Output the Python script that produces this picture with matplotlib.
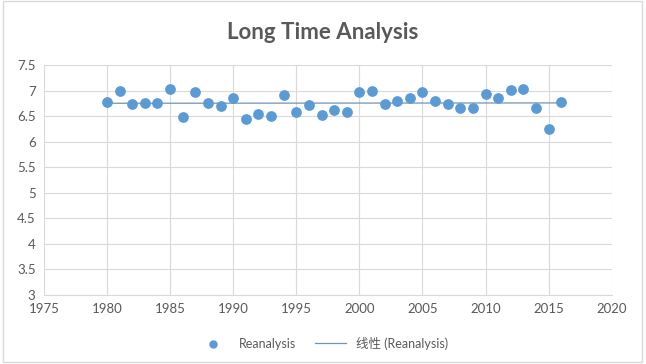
import numpy as np
import matplotlib.pyplot as plt
from matplotlib.patches import Rectangle

plt.rcParams['font.family'] = ['Lato', 'Noto Sans CJK SC', 'DejaVu Sans']

years = np.arange(1980, 2017)
values = [6.78, 7.00, 6.73, 6.75, 6.75, 7.03, 6.48, 6.97, 6.76, 6.70,
          6.86, 6.45, 6.55, 6.50, 6.92, 6.59, 6.72, 6.53, 6.63, 6.59,
          6.97, 7.00, 6.73, 6.79, 6.85, 6.97, 6.80, 6.73, 6.67, 6.67,
          6.94, 6.85, 7.02, 7.03, 6.67, 6.25, 6.77]
xticks = np.arange(1975, 2021, 5)
yticks = np.arange(3, 7.51, 0.5)
ylabels = ['3', '3.5', '4', '4.5', '5', '5.5', '6', '6.5', '7', '7.5']

col = '#5b9bd5'
txt = '#595959'
grid = '#d9d9d9'

fig = plt.figure(figsize=(6.46, 3.64), dpi=100)
fig.patches.append(Rectangle((0.004, 0.006), 0.99, 0.99, transform=fig.transFigure,
                             fill=False, edgecolor='#d9d9d9', lw=1))
ax = fig.add_axes([0.068, 0.19, 0.879, 0.631])

ax.scatter(years, values, s=45, color=col, zorder=3, label='Reanalysis')
k, b = np.polyfit(years, values, 1)
ax.plot(years, k * years + b, color='#6f94b8', lw=0.9, zorder=2, label='线性 (Reanalysis)')

ax.set_xlim(1975, 2020)
ax.set_ylim(3, 7.5)
ax.set_xticks(xticks)
ax.set_yticks(yticks)
ax.set_yticklabels(ylabels)
ax.grid(True, color=grid, lw=0.8)
ax.set_axisbelow(True)
for s in ax.spines.values():
    s.set_visible(False)
ax.spines['bottom'].set_visible(True)
ax.spines['bottom'].set_color(grid)
ax.tick_params(length=0, colors=txt, labelsize=9.5, pad=6)

fig.text(0.5, 0.912, 'Long Time Analysis', ha='center', va='center',
         fontsize=16, fontweight='bold', color=txt)

fig.legend(loc='center', bbox_to_anchor=(0.5, 0.057), ncol=2, frameon=False,
           fontsize=9, labelcolor=txt, handlelength=2.5, columnspacing=1.5,
           markerscale=0.75)

fig.savefig('out.png', dpi=100)
